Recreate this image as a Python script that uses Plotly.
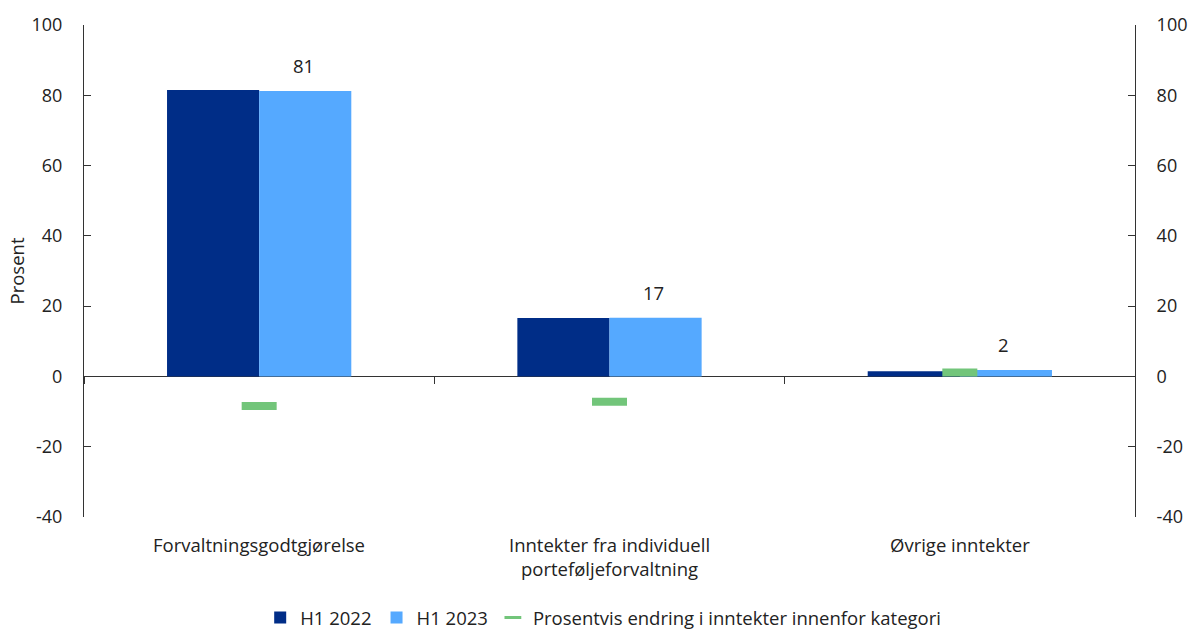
import plotly.graph_objects as go

categories = ["Forvaltningsgodtgjørelse", "Inntekter fra individuell<br>porteføljeforvaltning", "Øvrige inntekter"]
h1_2022 = [81.5, 16.6, 1.5]
h1_2023 = [81.2, 16.7, 1.8]
labels_2023 = ["81", "17", "2"]
change = [-8.4, -7.2, 1.1]
y_ticks = [-40, -20, 0, 20, 40, 60, 80, 100]
y_ticktext = ["-40", "-20", "0", "20", "40", "60", "80", "100"]
change_name = "Prosentvis endring i inntekter innenfor kategori"

FONT = "Open Sans, Noto Sans, sans-serif"
FS = 18.5
TFS = 18
TXT = "#222222"
GREEN = "#72C57A"
fig = go.Figure()
fig.add_trace(go.Bar(x=categories, y=h1_2022, name="H1 2022", marker=dict(color="#002D87", line=dict(width=0))))
fig.add_trace(go.Bar(x=categories, y=h1_2023, name="H1 2023", marker=dict(color="#55A9FF", line=dict(width=0))))
fig.add_trace(go.Scatter(x=categories, y=change, mode="markers", name=change_name, showlegend=False,
                         marker=dict(symbol="line-ew", size=25, color=GREEN,
                                     line=dict(color=GREEN, width=8))))
# legend entry with a short dash like the reference
fig.add_trace(go.Scatter(x=[categories[0]], y=[None], mode="markers", name=change_name,
                         marker=dict(symbol="line-ew", size=12, color=GREEN,
                                     line=dict(color=GREEN, width=3))))
# invisible trace to activate the right axis
fig.add_trace(go.Scatter(x=categories, y=h1_2022, yaxis="y2", mode="markers", showlegend=False,
                         hoverinfo="skip", marker=dict(opacity=0)))

for c, v, t in zip(categories, h1_2023, labels_2023):
    fig.add_annotation(x=c, y=v, text=t, showarrow=False, xref="x", yref="y",
                       yanchor="bottom", yshift=11, xshift=44,
                       font=dict(size=FS, color=TXT, family=FONT))
for c in categories:
    fig.add_annotation(x=c, y=-0.027, text=c, showarrow=False, xref="x", yref="paper",
                       yanchor="top", font=dict(size=FS, color=TXT, family=FONT))

zero_pos = 40 / 140
fig.update_layout(
    width=1189, height=637,
    margin=dict(l=84, r=54, t=25, b=120, autoexpand=False),
    paper_bgcolor="white", plot_bgcolor="white",
    barmode="group", bargap=0.474, bargroupgap=0,
    font=dict(family=FONT, size=FS, color=TXT),
    showlegend=True,
    legend=dict(orientation="h", x=0.494, xanchor="center", y=-0.205, yanchor="middle",
                font=dict(size=FS, color=TXT), itemwidth=30),
    xaxis=dict(type="category", anchor="free", position=zero_pos, showticklabels=False,
               ticks="outside", tickson="boundaries", ticklen=7, tickcolor="#333333",
               showline=False, showgrid=False, zeroline=False, automargin=False),
    yaxis=dict(range=[-40, 100], tickvals=y_ticks, ticktext=y_ticktext, ticks="inside", ticklen=7,
               tickcolor="#333333", showline=True, linecolor="#333333", linewidth=1,
               showgrid=False, zeroline=True, zerolinecolor="#333333", zerolinewidth=1.2,
               ticklabelstandoff=17, automargin=False,
               tickfont=dict(size=TFS, color=TXT),
               title=dict(text="Prosent", font=dict(size=FS), standoff=2)),
    yaxis2=dict(range=[-40, 100], tickvals=y_ticks, ticktext=y_ticktext, ticks="inside", ticklen=7,
                tickcolor="#333333", showline=True, linecolor="#333333", linewidth=1,
                showgrid=False, zeroline=False, overlaying="y", side="right",
                ticklabelstandoff=17, automargin=False, tickfont=dict(size=TFS, color=TXT)),
)
fig.write_html("out.html", config={"displayModeBar": False},
               post_script="document.body.style.margin='0';document.body.style.overflow='hidden';")
